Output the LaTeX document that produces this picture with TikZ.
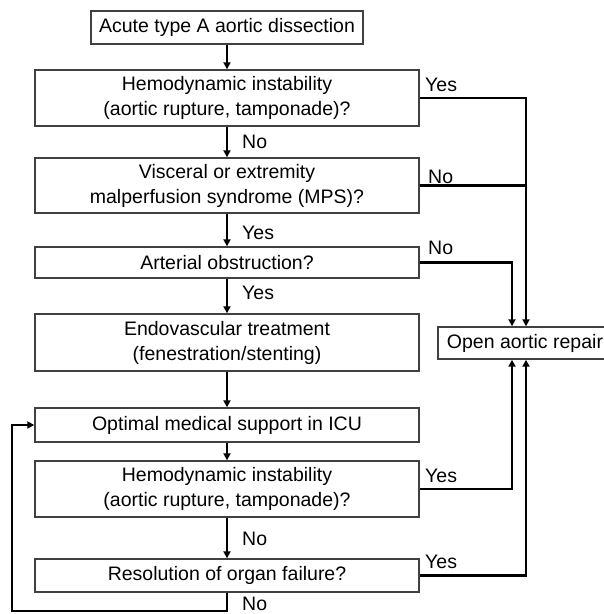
\documentclass[tikz,border=0pt]{standalone}
\usepackage{fontspec}
\setmainfont{Liberation Sans}
\usetikzlibrary{arrows.meta}
\begin{document}
\begin{tikzpicture}[x=1pt,y=-1pt,
  box/.style={draw=black!75,line width=1.4pt,fill=white,align=center,inner sep=0pt,
    font=\fontsize{19.5}{25}\selectfont},
  conn/.style={line width=2.5pt,black},
  arr/.style={conn,-{Triangle[length=7pt,width=7pt]}},
  lbl/.style={font=\fontsize{19.5}{23}\selectfont,inner sep=0pt}]
\useasboundingbox[fill=white] (0,0) rectangle (604,614);
\node[box,minimum width=272pt,minimum height=33pt] (b1) at (227,27.5) {Acute type A aortic dissection};
\node[box,minimum width=384pt,minimum height=56pt] (b2) at (227,98) {Hemodynamic instability\\(aortic rupture, tamponade)?};
\node[box,minimum width=384pt,minimum height=55pt] (b3) at (227,185.5) {Visceral or extremity\\malperfusion syndrome (MPS)?};
\node[box,minimum width=384pt,minimum height=31pt] (b4) at (227,262.5) {Arterial obstruction?};
\node[box,minimum width=384pt,minimum height=57pt] (b5) at (227,342.5) {Endovascular treatment\\(fenestration/stenting)};
\node[box,minimum width=384pt,minimum height=34pt] (b6) at (227,425) {Optimal medical support in ICU};
\node[box,minimum width=384pt,minimum height=56pt] (b7) at (227,489) {Hemodynamic instability\\(aortic rupture, tamponade)?};
\node[box,minimum width=384pt,minimum height=33pt] (b8) at (227,575.5) {Resolution of organ failure?};
\node[box,minimum width=174pt,minimum height=32pt] (op) at (525,343) {Open aortic repair};
\coordinate (onA) at ([xshift=1pt]op.north);
\coordinate (onB) at ([xshift=-13pt]op.north);
\coordinate (osA) at ([xshift=1pt]op.south);
\coordinate (osB) at ([xshift=-13pt]op.south);
% main column
\draw[arr] (b1) -- (b2);
\draw[arr] (b2) -- (b3);
\draw[arr] (b3) -- (b4);
\draw[arr] (b4) -- (b5);
\draw[arr] (b5) -- (b6);
\draw[arr] (b6) -- (b7);
\draw[arr] (b7) -- (b8);
\coordinate (lb) at (12,611);
\draw[arr] (b8.south) |- (lb) |- (b6.west);
% right side
\draw[arr] (b2.east) -| (onA);
\draw[conn] (b3.east) -- (b3.east -| onA);
\draw[arr] (b4.east) -| (onB);
\draw[arr] (b7.east) -| (osB);
\draw[arr] (b8.east) -| (osA);
% labels
\node[lbl,anchor=west] at (242,142) {No};
\node[lbl,anchor=west] at (242,233) {Yes};
\node[lbl,anchor=west] at (242,293) {Yes};
\node[lbl,anchor=west] at (242,539) {No};
\node[lbl,anchor=west] at (242,604) {No};
\node[lbl,anchor=west] at (425,85) {Yes};
\node[lbl,anchor=west] at (428,177) {No};
\node[lbl,anchor=west] at (428,248) {No};
\node[lbl,anchor=west] at (425,476) {Yes};
\node[lbl,anchor=west] at (425,562) {Yes};
\end{tikzpicture}
\end{document}
